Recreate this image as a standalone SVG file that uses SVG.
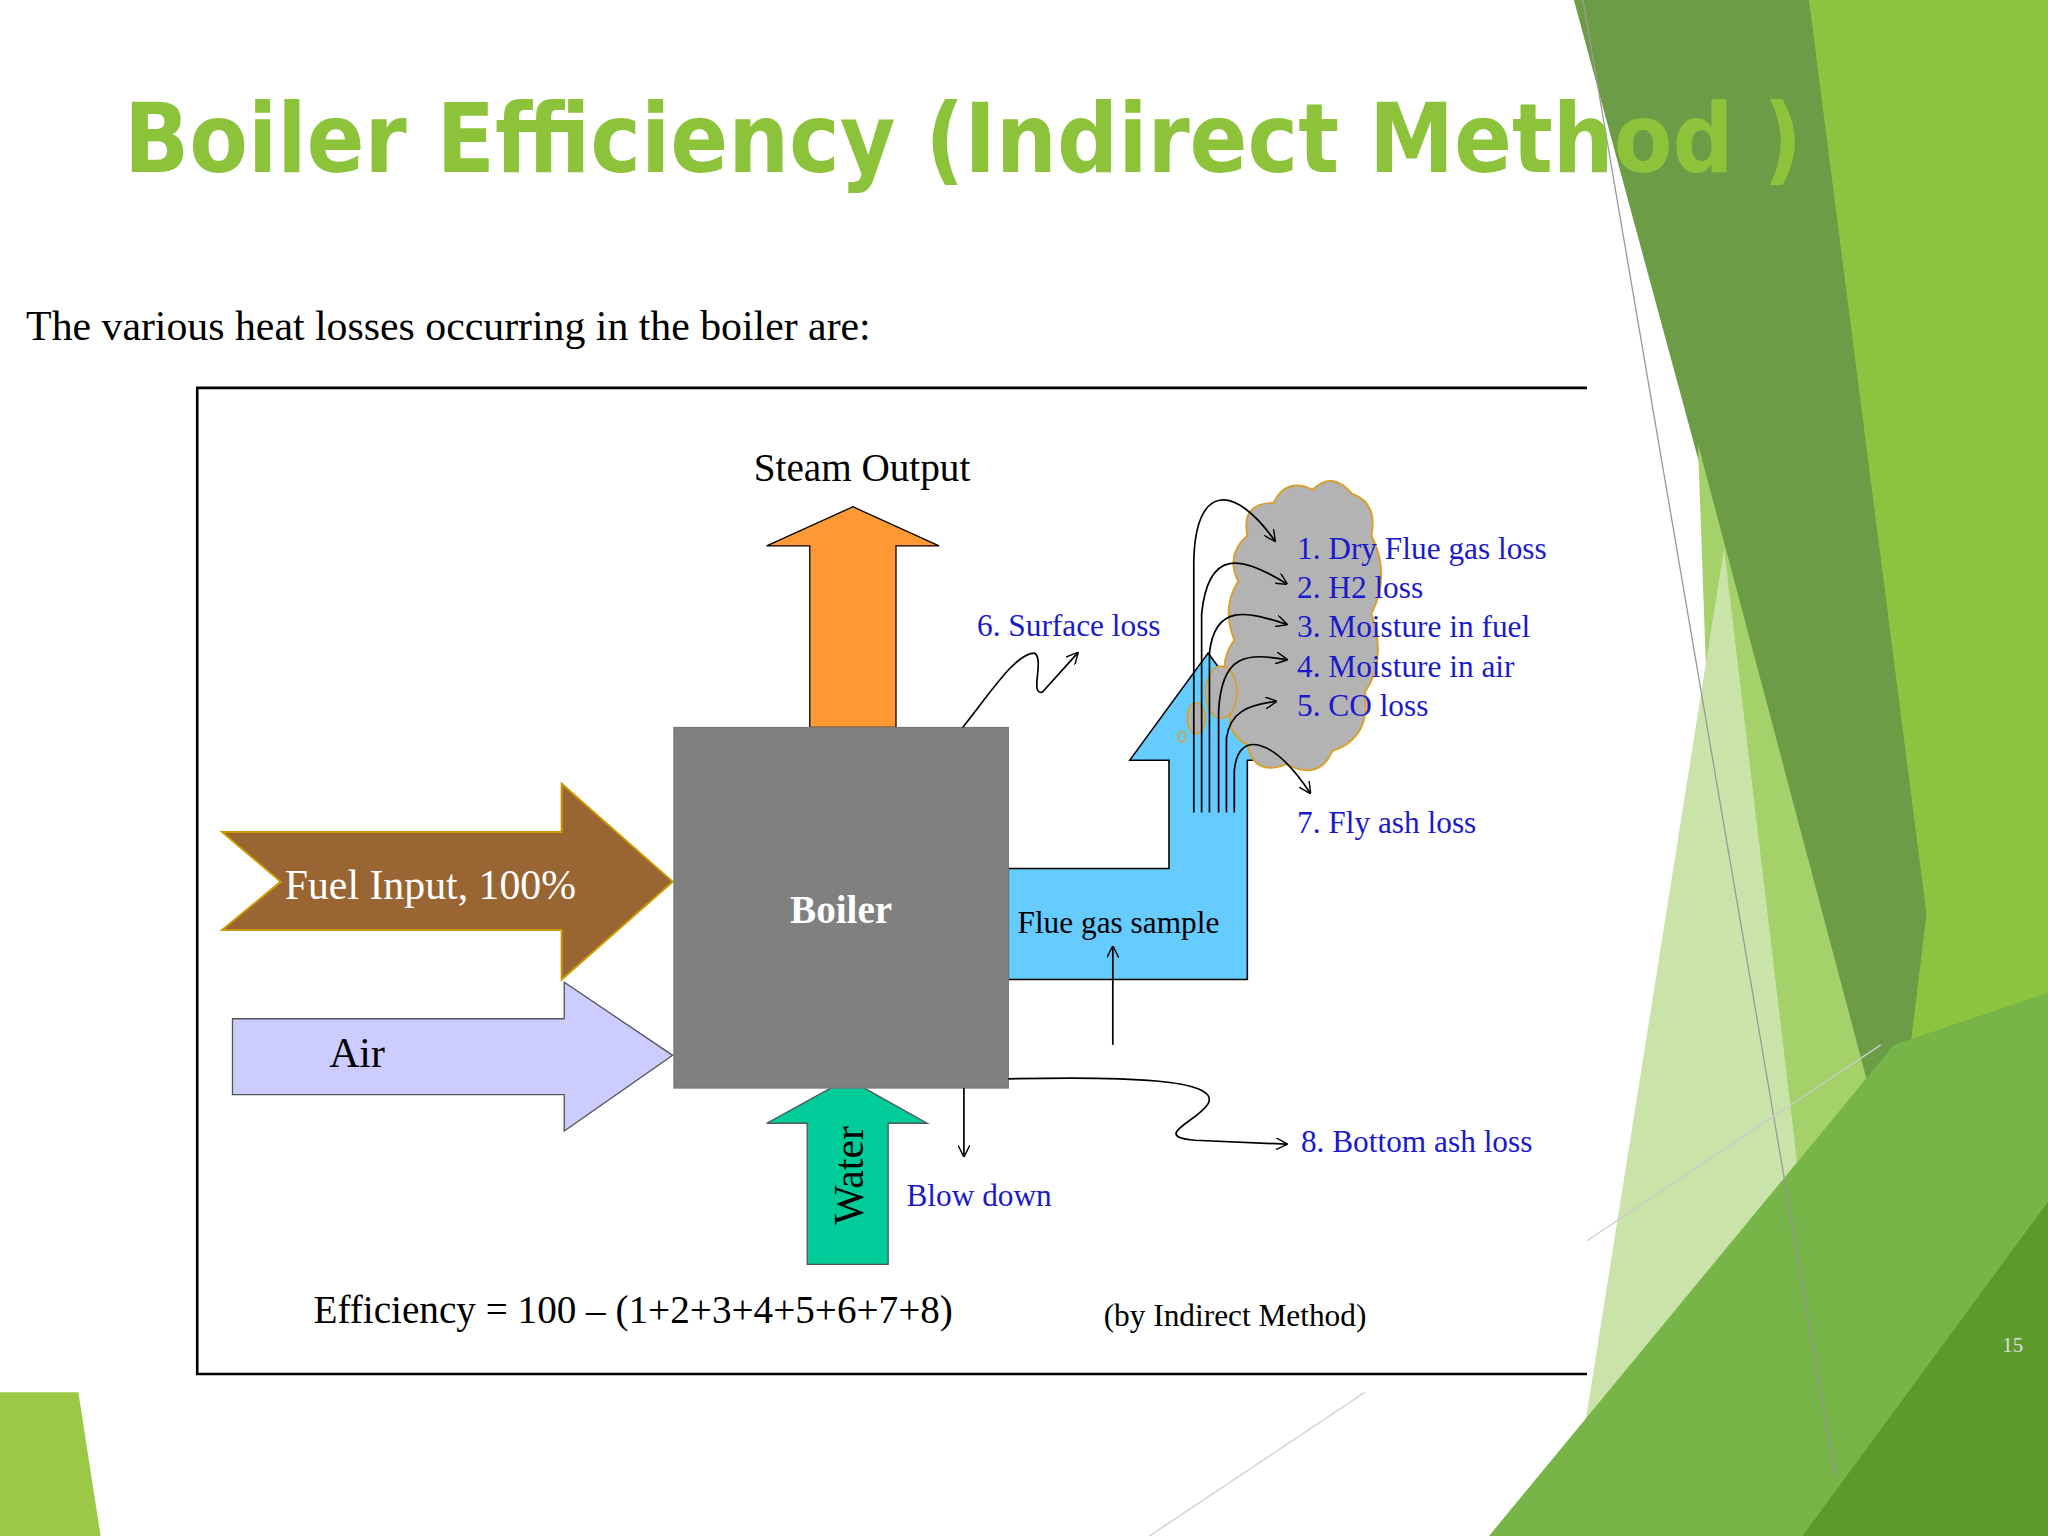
<svg xmlns="http://www.w3.org/2000/svg" width="2048" height="1536" viewBox="0 0 2048 1536">
<defs>
<marker id="a" viewBox="0 0 10 10" refX="9" refY="5" markerWidth="7" markerHeight="7" orient="auto"><path d="M0,0 L10,5 L0,10" fill="none" stroke="#000" stroke-width="1.2"/></marker>
<style>
.bl{font-family:"Liberation Serif",serif;font-size:24px;fill:#1a1acc}
.sr{font-family:"Liberation Serif",serif;fill:#000}
.c{fill:none;stroke:#000;stroke-width:1.3;marker-end:url(#a)}
</style>
</defs>
<rect width="2048" height="1536" fill="#fff"/>
<g transform="scale(1.30612)">
<g id="background">
<polygon points="1385,0 1568,0 1568,1176 1410,1176" fill="#8cc43f"/>
<polygon points="1205,0 1385,0 1475,700 1450,905" fill="#6d9c47"/>
<polygon points="1300,340 1450,905 1410,1176 1330,1176" fill="#a5d16a"/>
<polygon points="1320,420 1395,1050 1300,1176 1200,1176" fill="#c9e3a8"/>
<polygon points="1140,1176 1450,800 1568,760 1568,1176" fill="#78b548"/>
<polygon points="1380,1176 1568,920 1568,1176" fill="#5c9a2e"/>
<polygon points="0,1066 60,1066 77,1176 0,1176" fill="#9bc847"/>
<line x1="1212" y1="0" x2="1405" y2="1130" stroke="#999" stroke-width="1"/>
<line x1="1215" y1="950" x2="1440" y2="800" stroke="#ccc" stroke-width="1"/>
<line x1="880" y1="1176" x2="1045" y2="1066" stroke="#ccc" stroke-width="1"/>
<text x="1541" y="1035" font-family="Liberation Serif,serif" font-size="16" fill="#ddd" text-anchor="middle">15</text>
</g>
<text x="95" y="132" font-family="DejaVu Sans,sans-serif" font-weight="bold" font-size="74" fill="#8dc33a" textLength="1285" lengthAdjust="spacingAndGlyphs">Boiler Efficiency (Indirect Method )</text>
<text x="20" y="260" class="sr" font-size="32">The various heat losses occurring in the boiler are:</text>
<g id="frame" stroke="#000" stroke-width="2" fill="none"><polyline points="1215,297 151,297 151,1052 1215,1052"/></g>
<g id="steam"><polygon points="620,557 620,418 587,418 653,388 719,418 686,418 686,557" fill="#ff9933" stroke="#000" stroke-width="1"/>
<text x="660" y="368" class="sr" font-size="30" text-anchor="middle">Steam Output</text></g>
<g id="fuel"><polygon points="170,637 430,637 430,600 515,675 430,750 430,712 170,712 215,675" fill="#996633" stroke="#cc9900" stroke-width="1.5"/>
<text x="218" y="688" class="sr" font-size="32" fill="#fff" style="fill:#fff">Fuel Input, 100%</text></g>
<g id="air"><polygon points="178,780 432,780 432,752 515,808 432,866 432,838 178,838" fill="#ccccff" stroke="#555" stroke-width="1"/>
<text x="252" y="817" class="sr" font-size="32">Air</text></g>
<g id="water"><polygon points="618,968 618,860 587,860 649,826 710,860 680,860 680,968" fill="#00cc99" stroke="#555" stroke-width="1"/>
<text transform="translate(661,900) rotate(-90)" class="sr" font-size="32" text-anchor="middle">Water</text></g>
<g id="flue"><polygon points="772,665 895,665 895,582 865,582 925,500 985,582 955,582 955,750 772,750" fill="#66ccff" stroke="#000" stroke-width="1.2"/>
<text x="779" y="714" class="sr" font-size="24">Flue gas sample</text></g>
<g id="boiler"><rect x="516" y="557" width="256" height="276" fill="#808080" stroke="#777"/>
<text x="644" y="707" font-family="Liberation Serif,serif" font-weight="bold" font-size="30" fill="#fff" text-anchor="middle">Boiler</text></g>
<g id="cloud">
<path d="M955,410 Q950,385 975,385 Q985,365 1005,375 Q1020,360 1035,378 Q1055,385 1050,410 Q1065,440 1050,470 Q1062,505 1045,530 Q1050,565 1020,575 Q1010,598 985,585 Q960,595 955,570 Q935,560 945,535 Q930,510 945,490 Q935,465 948,445 Q938,425 955,410 Z" fill="#b3b3b3" stroke="#d9a030" stroke-width="1.5"/>
<ellipse cx="935" cy="530" rx="12" ry="20" fill="#b3b3b3" stroke="#d9a030" stroke-width="1.2"/>
<ellipse cx="916" cy="550" rx="7" ry="12" fill="#b3b3b3" stroke="#d9a030" stroke-width="1.2"/>
<ellipse cx="905" cy="564" rx="3" ry="4" fill="none" stroke="#d9a030" stroke-width="1.2"/>
</g>
<g id="labels">
<text x="748" y="487" class="bl">6. Surface loss</text>
<text x="993" y="428" class="bl">1. Dry Flue gas loss</text>
<text x="993" y="458" class="bl">2. H2 loss</text>
<text x="993" y="488" class="bl">3. Moisture in fuel</text>
<text x="993" y="518" class="bl">4. Moisture in air</text>
<text x="993" y="548" class="bl">5. CO loss</text>
<text x="993" y="638" class="bl">7. Fly ash loss</text>
<text x="996" y="882" class="bl">8. Bottom ash loss</text>
<text x="694" y="923" class="bl">Blow down</text>
<text x="240" y="1013" class="sr" font-size="30">Efficiency =  100 – (1+2+3+4+5+6+7+8)</text>
<text x="845" y="1015" class="sr" font-size="24">(by Indirect Method)</text>
</g>
<g id="connectors">
<path class="c" d="M737,557 C760,528 778,500 792,500 C800,505 788,532 798,530 L825,500"/>
<path class="c" d="M852,800 L852,725"/>
<path class="c" d="M738,833 L738,885"/>
<path class="c" d="M772,826 C860,824 935,826 925,845 C918,858 880,870 915,873 L985,876"/>
<path class="c" d="M914,622 L914,430 C915,370 945,370 976,414"/>
<path class="c" d="M920,622 L920,470 C925,420 950,425 985,447"/>
<path class="c" d="M926,622 L926,500 C930,462 955,468 985,478"/>
<path class="c" d="M933,622 L933,545 C935,500 955,500 985,505"/>
<path class="c" d="M939,622 L939,565 C942,545 955,540 977,537"/>
<path class="c" d="M945,622 L945,590 C948,558 975,565 1003,607"/>
</g>
</g>
</svg>
